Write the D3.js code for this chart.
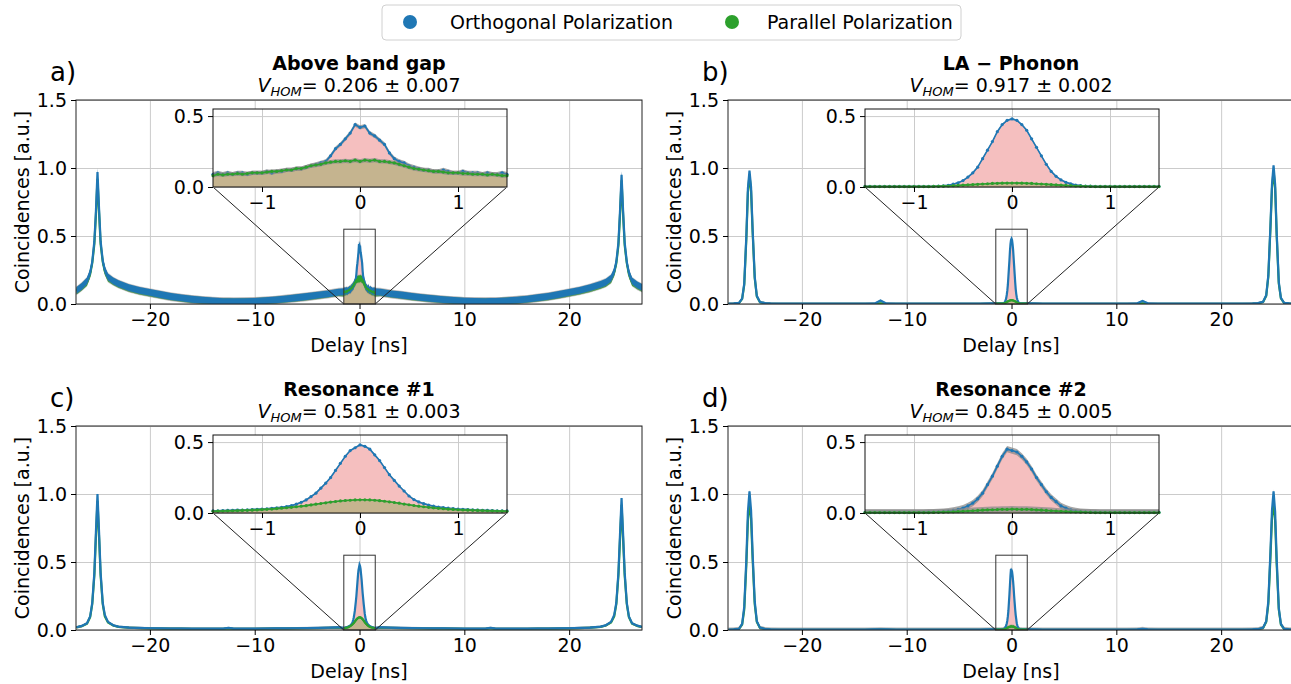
<!DOCTYPE html>
<html>
<head>
<meta charset="utf-8">
<script src="https://d3js.org/d3.v7.min.js"></script>
<style>
  body { margin: 0; background: #fff; }
  svg text { font-family: "DejaVu Sans", sans-serif; fill: #000; }
  .grid line { stroke: #cbcbcb; stroke-width: 1; }
  .grid path { display: none; }
  .axis path { display: none; }
  .axis line { stroke: #000; }
  .axis text { font-size: 19px; }
</style>
</head>
<body>
<svg width="1291" height="684"></svg>
<script>
// ---- data ----
var panelLabels = ["a)", "b)", "c)", "d)"];
var panelTitles = ["Above band gap", "LA \u2212 Phonon", "Resonance #1", "Resonance #2"];
var vhomValues = ["0.206 \u00b1 0.007", "0.917 \u00b1 0.002", "0.581 \u00b1 0.003", "0.845 \u00b1 0.005"];
var seriesNames = ["Orthogonal Polarization", "Parallel Polarization"];

var xTicks = [-20, -10, 0, 10, 20];
var yTicks = [0, 0.5, 1.0, 1.5];
var insetXTicks = [-1, 0, 1];
var insetYTicks = [0, 0.5];

// delays away from the centre peak [ns]
var sideDelay = [-27, -26.5, -26, -25.7, -25.5, -25.3, -25.15, -25, -24.85, -24.7, -24.5, -24.3, -24, -23.5, -23, -22, -21, -20, -19, -18, -17, -16, -15, -14, -13, -12.5, -12, -11, -10, -9, -8, -7, -6, -5, -4, -3, -2,
  2, 3, 4, 5, 6, 7, 8, 9, 10, 11, 12, 12.5, 13, 14, 15, 16, 17, 18, 19, 20, 21, 22, 23, 23.5, 24, 24.3, 24.5, 24.7, 24.85, 25, 25.15, 25.3, 25.5, 25.7, 26, 26.5, 27];

var sideOrthA = [0.10, 0.13, 0.17, 0.23, 0.31, 0.46, 0.68, 0.97, 0.70, 0.46, 0.32, 0.25, 0.20, 0.17, 0.15, 0.12, 0.10, 0.085, 0.07, 0.055, 0.045, 0.035, 0.028, 0.022, 0.018, 0.018, 0.017, 0.018, 0.02, 0.025, 0.03, 0.038, 0.046, 0.055, 0.065, 0.075, 0.088,
  0.088, 0.075, 0.066, 0.056, 0.047, 0.039, 0.032, 0.026, 0.021, 0.019, 0.018, 0.019, 0.019, 0.023, 0.029, 0.036, 0.046, 0.056, 0.07, 0.085, 0.10, 0.12, 0.145, 0.16, 0.19, 0.24, 0.31, 0.45, 0.68, 0.95, 0.68, 0.45, 0.31, 0.23, 0.17, 0.14, 0.12];
var sideParA = [0.095, 0.125, 0.16, 0.22, 0.30, 0.44, 0.65, 0.92, 0.67, 0.44, 0.31, 0.24, 0.19, 0.165, 0.145, 0.115, 0.095, 0.08, 0.066, 0.052, 0.042, 0.033, 0.026, 0.02, 0.017, 0.017, 0.016, 0.017, 0.019, 0.023, 0.028, 0.036, 0.044, 0.052, 0.062, 0.072, 0.083,
  0.083, 0.072, 0.063, 0.053, 0.045, 0.037, 0.03, 0.024, 0.02, 0.018, 0.017, 0.018, 0.018, 0.022, 0.027, 0.034, 0.043, 0.053, 0.066, 0.08, 0.095, 0.114, 0.138, 0.152, 0.18, 0.23, 0.3, 0.43, 0.65, 0.91, 0.65, 0.43, 0.3, 0.22, 0.16, 0.133, 0.114];

var sideOrthB = [0.003, 0.004, 0.008, 0.04, 0.15, 0.5, 0.85, 0.98, 0.86, 0.55, 0.2, 0.06, 0.015, 0.006, 0.004, 0.003, 0.003, 0.003, 0.003, 0.003, 0.003, 0.003, 0.003, 0.003, 0.005, 0.025, 0.005, 0.003, 0.003, 0.003, 0.003, 0.003, 0.003, 0.003, 0.003, 0.003, 0.004,
  0.004, 0.003, 0.003, 0.003, 0.003, 0.003, 0.003, 0.003, 0.003, 0.003, 0.005, 0.022, 0.005, 0.003, 0.003, 0.003, 0.003, 0.003, 0.003, 0.003, 0.003, 0.003, 0.004, 0.006, 0.016, 0.065, 0.21, 0.57, 0.88, 1.02, 0.88, 0.52, 0.16, 0.045, 0.009, 0.004, 0.003];
var sideParB = [0.002, 0.003, 0.007, 0.038, 0.14, 0.48, 0.82, 0.95, 0.83, 0.53, 0.19, 0.055, 0.013, 0.005, 0.003, 0.002, 0.002, 0.002, 0.002, 0.002, 0.002, 0.002, 0.002, 0.002, 0.003, 0.005, 0.003, 0.002, 0.002, 0.002, 0.002, 0.002, 0.002, 0.002, 0.002, 0.002, 0.003,
  0.003, 0.002, 0.002, 0.002, 0.002, 0.002, 0.002, 0.002, 0.002, 0.002, 0.003, 0.005, 0.003, 0.002, 0.002, 0.002, 0.002, 0.002, 0.002, 0.002, 0.002, 0.002, 0.003, 0.005, 0.014, 0.06, 0.2, 0.55, 0.85, 0.98, 0.85, 0.5, 0.15, 0.042, 0.008, 0.003, 0.002];

var sideOrthC = [0.02, 0.03, 0.05, 0.1, 0.2, 0.42, 0.72, 1.0, 0.72, 0.42, 0.2, 0.11, 0.06, 0.035, 0.025, 0.018, 0.015, 0.013, 0.012, 0.011, 0.011, 0.01, 0.01, 0.01, 0.01, 0.015, 0.01, 0.01, 0.01, 0.011, 0.012, 0.012, 0.013, 0.014, 0.015, 0.017, 0.02,
  0.02, 0.017, 0.015, 0.014, 0.013, 0.012, 0.012, 0.011, 0.01, 0.01, 0.01, 0.016, 0.01, 0.01, 0.01, 0.01, 0.011, 0.011, 0.012, 0.013, 0.015, 0.018, 0.025, 0.035, 0.06, 0.11, 0.2, 0.42, 0.7, 0.97, 0.7, 0.42, 0.2, 0.1, 0.05, 0.032, 0.022];
var sideParC = [0.019, 0.028, 0.047, 0.095, 0.19, 0.4, 0.68, 0.95, 0.68, 0.4, 0.19, 0.1, 0.056, 0.033, 0.023, 0.017, 0.014, 0.012, 0.011, 0.01, 0.01, 0.009, 0.009, 0.009, 0.009, 0.012, 0.009, 0.009, 0.009, 0.01, 0.011, 0.011, 0.012, 0.013, 0.014, 0.016, 0.018,
  0.018, 0.016, 0.014, 0.013, 0.012, 0.011, 0.011, 0.01, 0.009, 0.009, 0.009, 0.013, 0.009, 0.009, 0.009, 0.009, 0.01, 0.01, 0.011, 0.012, 0.014, 0.017, 0.023, 0.033, 0.056, 0.1, 0.19, 0.4, 0.66, 0.92, 0.66, 0.4, 0.19, 0.095, 0.047, 0.03, 0.02];

var sideOrthD = [0.003, 0.004, 0.009, 0.045, 0.17, 0.52, 0.87, 1.02, 0.88, 0.56, 0.21, 0.065, 0.017, 0.007, 0.004, 0.003, 0.003, 0.003, 0.003, 0.003, 0.003, 0.003, 0.003, 0.003, 0.004, 0.005, 0.004, 0.003, 0.003, 0.003, 0.003, 0.003, 0.003, 0.003, 0.003, 0.003, 0.004,
  0.004, 0.003, 0.003, 0.003, 0.003, 0.003, 0.003, 0.003, 0.003, 0.003, 0.004, 0.008, 0.004, 0.003, 0.003, 0.003, 0.003, 0.003, 0.003, 0.003, 0.003, 0.003, 0.004, 0.006, 0.017, 0.065, 0.21, 0.57, 0.88, 1.02, 0.87, 0.52, 0.16, 0.045, 0.009, 0.004, 0.003];
var sideParD = [0.002, 0.003, 0.008, 0.04, 0.15, 0.48, 0.8, 0.94, 0.82, 0.52, 0.19, 0.06, 0.015, 0.006, 0.003, 0.002, 0.002, 0.002, 0.002, 0.002, 0.002, 0.002, 0.002, 0.002, 0.003, 0.004, 0.003, 0.002, 0.002, 0.002, 0.002, 0.002, 0.002, 0.002, 0.002, 0.002, 0.003,
  0.003, 0.002, 0.002, 0.002, 0.002, 0.002, 0.002, 0.002, 0.002, 0.002, 0.003, 0.005, 0.003, 0.002, 0.002, 0.002, 0.002, 0.002, 0.002, 0.002, 0.002, 0.002, 0.003, 0.005, 0.015, 0.06, 0.19, 0.53, 0.82, 0.95, 0.8, 0.48, 0.15, 0.04, 0.008, 0.003, 0.002];

// delays of the zoomed centre peak [ns]
var insetDelay = [-1.5, -1.45, -1.4, -1.35, -1.3, -1.25, -1.2, -1.15, -1.1, -1.05, -1, -0.95, -0.9, -0.85, -0.8, -0.75, -0.7, -0.65, -0.6, -0.55, -0.5, -0.45, -0.4, -0.35, -0.3, -0.25, -0.2, -0.15, -0.1, -0.05,
  0, 0.05, 0.1, 0.15, 0.2, 0.25, 0.3, 0.35, 0.4, 0.45, 0.5, 0.55, 0.6, 0.65, 0.7, 0.75, 0.8, 0.85, 0.9, 0.95, 1, 1.05, 1.1, 1.15, 1.2, 1.25, 1.3, 1.35, 1.4, 1.45, 1.5];

var insetOrthA = [0.09, 0.10, 0.09, 0.10, 0.09, 0.10, 0.10, 0.09, 0.10, 0.10, 0.10, 0.11, 0.10, 0.11, 0.11, 0.12, 0.12, 0.13, 0.13, 0.14, 0.15, 0.16, 0.17, 0.18, 0.22, 0.27, 0.30, 0.34, 0.38, 0.44,
  0.42, 0.43, 0.38, 0.36, 0.33, 0.30, 0.24, 0.20, 0.18, 0.17, 0.15, 0.14, 0.13, 0.12, 0.12, 0.11, 0.11, 0.12, 0.11, 0.10, 0.10, 0.11, 0.10, 0.10, 0.10, 0.09, 0.10, 0.09, 0.09, 0.10, 0.09];
var insetParA = [0.08, 0.09, 0.085, 0.09, 0.09, 0.095, 0.09, 0.095, 0.1, 0.1, 0.1, 0.105, 0.11, 0.11, 0.115, 0.12, 0.12, 0.13, 0.13, 0.14, 0.15, 0.155, 0.16, 0.17, 0.175, 0.18, 0.18, 0.185, 0.18, 0.19,
  0.18, 0.19, 0.185, 0.19, 0.18, 0.18, 0.175, 0.17, 0.16, 0.15, 0.14, 0.13, 0.125, 0.12, 0.115, 0.11, 0.11, 0.105, 0.1, 0.1, 0.1, 0.095, 0.095, 0.09, 0.09, 0.09, 0.085, 0.09, 0.085, 0.08, 0.08];

var insetOrthB = [0.004, 0.004, 0.004, 0.004, 0.004, 0.004, 0.004, 0.004, 0.004, 0.004, 0.004, 0.004, 0.004, 0.004, 0.005, 0.006, 0.008, 0.012, 0.02, 0.03, 0.045, 0.07, 0.1, 0.14, 0.2, 0.26, 0.32, 0.39, 0.44, 0.47,
  0.48, 0.47, 0.44, 0.4, 0.34, 0.28, 0.22, 0.16, 0.11, 0.075, 0.05, 0.033, 0.022, 0.014, 0.01, 0.007, 0.006, 0.004, 0.004, 0.004, 0.004, 0.004, 0.004, 0.004, 0.004, 0.004, 0.004, 0.004, 0.004, 0.004, 0.004];
var insetParB = [0.003, 0.003, 0.003, 0.003, 0.003, 0.003, 0.003, 0.003, 0.003, 0.003, 0.003, 0.003, 0.003, 0.003, 0.004, 0.005, 0.006, 0.007, 0.009, 0.011, 0.013, 0.015, 0.017, 0.019, 0.021, 0.023, 0.025, 0.026, 0.027, 0.028,
  0.028, 0.028, 0.027, 0.026, 0.025, 0.023, 0.021, 0.019, 0.017, 0.015, 0.013, 0.011, 0.009, 0.007, 0.006, 0.005, 0.004, 0.003, 0.003, 0.003, 0.003, 0.003, 0.003, 0.003, 0.003, 0.003, 0.003, 0.003, 0.003, 0.003, 0.003];

var insetOrthC = [0.015, 0.016, 0.017, 0.018, 0.019, 0.02, 0.021, 0.022, 0.024, 0.026, 0.028, 0.03, 0.033, 0.036, 0.04, 0.045, 0.052, 0.062, 0.075, 0.092, 0.115, 0.14, 0.175, 0.21, 0.25, 0.3, 0.35, 0.4, 0.44, 0.46,
  0.48, 0.47, 0.45, 0.41, 0.37, 0.32, 0.27, 0.23, 0.19, 0.155, 0.12, 0.095, 0.078, 0.066, 0.056, 0.048, 0.042, 0.038, 0.034, 0.031, 0.028, 0.026, 0.024, 0.022, 0.02, 0.019, 0.018, 0.017, 0.016, 0.015, 0.015];
var insetParC = [0.012, 0.013, 0.014, 0.015, 0.016, 0.017, 0.018, 0.019, 0.02, 0.022, 0.024, 0.026, 0.028, 0.031, 0.034, 0.037, 0.04, 0.044, 0.048, 0.052, 0.057, 0.062, 0.067, 0.072, 0.077, 0.081, 0.085, 0.088, 0.09, 0.092,
  0.093, 0.093, 0.092, 0.09, 0.087, 0.083, 0.079, 0.074, 0.069, 0.063, 0.058, 0.053, 0.048, 0.044, 0.04, 0.036, 0.033, 0.03, 0.027, 0.025, 0.023, 0.021, 0.02, 0.019, 0.018, 0.017, 0.016, 0.015, 0.014, 0.013, 0.012];

var insetOrthD = [0.004, 0.004, 0.004, 0.004, 0.004, 0.004, 0.004, 0.004, 0.004, 0.004, 0.004, 0.005, 0.005, 0.006, 0.007, 0.008, 0.01, 0.013, 0.018, 0.025, 0.035, 0.05, 0.07, 0.1, 0.14, 0.2, 0.26, 0.33, 0.4, 0.45,
  0.44, 0.43, 0.4, 0.36, 0.31, 0.25, 0.2, 0.15, 0.11, 0.08, 0.05, 0.035, 0.022, 0.015, 0.01, 0.008, 0.007, 0.006, 0.005, 0.005, 0.004, 0.004, 0.004, 0.004, 0.004, 0.004, 0.004, 0.004, 0.004, 0.004, 0.004];
var insetParD = [0.003, 0.003, 0.003, 0.003, 0.003, 0.003, 0.003, 0.003, 0.003, 0.003, 0.003, 0.003, 0.003, 0.003, 0.004, 0.005, 0.006, 0.007, 0.008, 0.01, 0.012, 0.014, 0.016, 0.018, 0.02, 0.022, 0.023, 0.024, 0.026, 0.025,
  0.027, 0.026, 0.025, 0.026, 0.024, 0.022, 0.02, 0.018, 0.016, 0.014, 0.012, 0.01, 0.008, 0.007, 0.006, 0.005, 0.004, 0.003, 0.003, 0.003, 0.003, 0.003, 0.003, 0.003, 0.003, 0.003, 0.003, 0.003, 0.003, 0.003, 0.003];

// scatter half-width and error bar sizes per panel (a.u.)
var bandSpread = [0.025, 0.004, 0.005, 0.005];
var mainError = [0.006, 0.004, 0.004, 0.01];
var insetError = [0.015, 0.006, 0.006, 0.022];

var sideOrth = [sideOrthA, sideOrthB, sideOrthC, sideOrthD];
var sidePar = [sideParA, sideParB, sideParC, sideParD];
var insetOrth = [insetOrthA, insetOrthB, insetOrthC, insetOrthD];
var insetPar = [insetParA, insetParB, insetParC, insetParD];

// ---- layout ----
var BLUE = "#1f77b4", GREEN = "#2ca02c", GRAY = "#8a8a8a", PINK = "#f5bfbf", TAN = "#c5b48f";
var AX_W = 566, AX_H = 204;
var origins = [[76, 100], [728, 100], [76, 426], [728, 426]];
var INSET = {dx: 137, dy: 9, w: 294, h: 78};
var xDomain = [-27.05, 26.95];
var FONT = 19;

var svg = d3.select("svg");
var fmtX = d3.format("d");

// legend
var legend = svg.append("g");
legend.append("rect")
    .attr("x", 382).attr("y", 5).attr("width", 579).attr("height", 35)
    .attr("rx", 4).attr("fill", "#fff").attr("stroke", "#d0d0d0");
var legendX = [[410, 450], [732, 767]];
[BLUE, GREEN].forEach(function(c, k) {
    legend.append("circle").attr("cx", legendX[k][0]).attr("cy", 22).attr("r", 7).attr("fill", c);
    legend.append("text").attr("x", legendX[k][1]).attr("y", 29).attr("font-size", FONT).text(seriesNames[k]);
});

panelLabels.forEach(function(lbl, i) { drawPanel(i); });

function bandArea(x, y, key, spread) {
    return d3.area()
        .x(function(d) { return x(d.t); })
        .y0(function(d) { return y(Math.max(0, d[key] - spread)); })
        .y1(function(d) { return y(d[key] + spread); });
}

function valueLine(x, y, key) {
    return d3.line().x(function(d) { return x(d.t); }).y(function(d) { return y(d[key]); });
}

function fillArea(x, y, key) {
    return d3.area().x(function(d) { return x(d.t); }).y0(y(0)).y1(function(d) { return y(d[key]); });
}

function drawPanel(i) {
    var ox = origins[i][0], oy = origins[i][1];
    var g = svg.append("g").attr("transform", "translate(" + ox + "," + oy + ")");

    var x = d3.scaleLinear().domain(xDomain).range([0, AX_W]);
    var y = d3.scaleLinear().domain([0, 1.5]).range([AX_H, 0]);

    var inner = insetDelay.map(function(t, k) {
        return {t: t, o: insetOrth[i][k], p: insetPar[i][k]};
    });
    var pts = sideDelay.map(function(t, k) {
        return {t: t, o: sideOrth[i][k], p: sidePar[i][k]};
    }).concat(inner).sort(function(a, b) { return a.t - b.t; });

    // grid
    g.append("g").attr("class", "grid").attr("transform", "translate(0," + AX_H + ")")
        .call(d3.axisBottom(x).tickValues(xTicks).tickSize(-AX_H).tickFormat(""));
    g.append("g").attr("class", "grid")
        .call(d3.axisLeft(y).tickValues(yTicks).tickSize(-AX_W).tickFormat(""));

    var clipId = "clip" + i;
    g.append("clipPath").attr("id", clipId).append("rect")
        .attr("width", AX_W).attr("height", AX_H);
    var data = g.append("g").attr("clip-path", "url(#" + clipId + ")");

    var spread = bandSpread[i], err = mainError[i];

    data.append("path").datum(inner).attr("d", fillArea(x, y, "o")).attr("fill", PINK);
    data.append("path").datum(inner).attr("d", fillArea(x, y, "p")).attr("fill", TAN);

    [["p", GREEN], ["o", BLUE]].forEach(function(s) {
        data.append("path").datum(pts).attr("d", bandArea(x, y, s[0], spread + err)).attr("fill", GRAY).attr("opacity", 0.45);
        data.append("path").datum(pts).attr("d", bandArea(x, y, s[0], spread)).attr("fill", s[1]);
        data.append("path").datum(pts).attr("d", valueLine(x, y, s[0]))
            .attr("fill", "none").attr("stroke", s[1]).attr("stroke-width", 2.2);
    });
    // parallel centre peak stays visible on top
    data.append("path").datum(inner).attr("d", valueLine(x, y, "p"))
        .attr("fill", "none").attr("stroke", GREEN).attr("stroke-width", 2);

    // zoom box and connectors
    g.append("rect")
        .attr("x", x(-1.5)).attr("y", y(0.55))
        .attr("width", x(1.5) - x(-1.5)).attr("height", y(0) - y(0.55))
        .attr("fill", "none").attr("stroke", "#333").attr("stroke-width", 1);
    g.append("line").attr("x1", x(-1.5)).attr("y1", y(0))
        .attr("x2", INSET.dx).attr("y2", INSET.dy + INSET.h).attr("stroke", "#222");
    g.append("line").attr("x1", x(1.5)).attr("y1", y(0))
        .attr("x2", INSET.dx + INSET.w).attr("y2", INSET.dy + INSET.h).attr("stroke", "#222");

    // frame and axes
    g.append("rect").attr("width", AX_W).attr("height", AX_H)
        .attr("fill", "none").attr("stroke", "#222").attr("stroke-width", 1);
    g.append("g").attr("class", "axis").attr("transform", "translate(0," + AX_H + ")")
        .call(d3.axisBottom(x).tickValues(xTicks).tickSize(5).tickPadding(4).tickSizeOuter(0).tickFormat(fmtX));
    g.append("g").attr("class", "axis")
        .call(d3.axisLeft(y).tickValues(yTicks).tickSize(5).tickPadding(4).tickSizeOuter(0).tickFormat(d3.format(".1f")));

    g.append("text").attr("x", AX_W / 2).attr("y", AX_H + 48)
        .attr("text-anchor", "middle").attr("font-size", FONT).text("Delay [ns]");
    g.append("text").attr("transform", "translate(-47," + (AX_H / 2) + ") rotate(-90)")
        .attr("text-anchor", "middle").attr("font-size", FONT).text("Coincidences [a.u.]");

    g.append("text").attr("x", AX_W / 2).attr("y", -30)
        .attr("text-anchor", "middle").attr("font-size", FONT).attr("font-weight", "bold")
        .text(panelTitles[i]);
    var vt = g.append("text").attr("x", AX_W / 2).attr("y", -8)
        .attr("text-anchor", "middle").attr("font-size", FONT);
    vt.append("tspan").attr("font-style", "italic").text("V");
    vt.append("tspan").attr("font-style", "italic").attr("font-size", 13).attr("dy", 4).text("HOM");
    vt.append("tspan").attr("dy", -4).text("= " + vhomValues[i]);

    g.append("text").attr("x", -26).attr("y", -19).attr("font-size", 26).text(panelLabels[i]);

    drawInset(g, i, inner, insetError[i]);
}

function drawInset(g, i, inner, err) {
    var ig = g.append("g").attr("transform", "translate(" + INSET.dx + "," + INSET.dy + ")");
    var xi = d3.scaleLinear().domain([-1.5, 1.5]).range([0, INSET.w]);
    var yi = d3.scaleLinear().domain([0, 0.55]).range([INSET.h, 0]);

    ig.append("rect").attr("width", INSET.w).attr("height", INSET.h).attr("fill", "#fff");
    ig.append("g").attr("class", "grid").attr("transform", "translate(0," + INSET.h + ")")
        .call(d3.axisBottom(xi).tickValues(insetXTicks).tickSize(-INSET.h).tickFormat(""));
    ig.append("g").attr("class", "grid")
        .call(d3.axisLeft(yi).tickValues(insetYTicks).tickSize(-INSET.w).tickFormat(""));

    ig.append("path").datum(inner).attr("d", fillArea(xi, yi, "o")).attr("fill", PINK);
    ig.append("path").datum(inner).attr("d", fillArea(xi, yi, "p")).attr("fill", TAN);

    [["o", BLUE], ["p", GREEN]].forEach(function(s) {
        ig.append("path").datum(inner).attr("d", bandArea(xi, yi, s[0], err)).attr("fill", GRAY).attr("opacity", 0.75);
        ig.append("path").datum(inner).attr("d", valueLine(xi, yi, s[0]))
            .attr("fill", "none").attr("stroke", s[1]).attr("stroke-width", 1.6);
        ig.selectAll(null).data(inner).enter().append("circle")
            .attr("cx", function(d) { return xi(d.t); })
            .attr("cy", function(d) { return yi(d[s[0]]); })
            .attr("r", 1.6).attr("fill", s[1]);
    });

    ig.append("rect").attr("width", INSET.w).attr("height", INSET.h)
        .attr("fill", "none").attr("stroke", "#111").attr("stroke-width", 1);
    ig.append("g").attr("class", "axis").attr("transform", "translate(0," + INSET.h + ")")
        .call(d3.axisBottom(xi).tickValues(insetXTicks).tickSize(5).tickPadding(4).tickSizeOuter(0).tickFormat(fmtX));
    ig.append("g").attr("class", "axis")
        .call(d3.axisLeft(yi).tickValues(insetYTicks).tickSize(5).tickPadding(4).tickSizeOuter(0).tickFormat(d3.format(".1f")));
}
</script>
</body>
</html>
